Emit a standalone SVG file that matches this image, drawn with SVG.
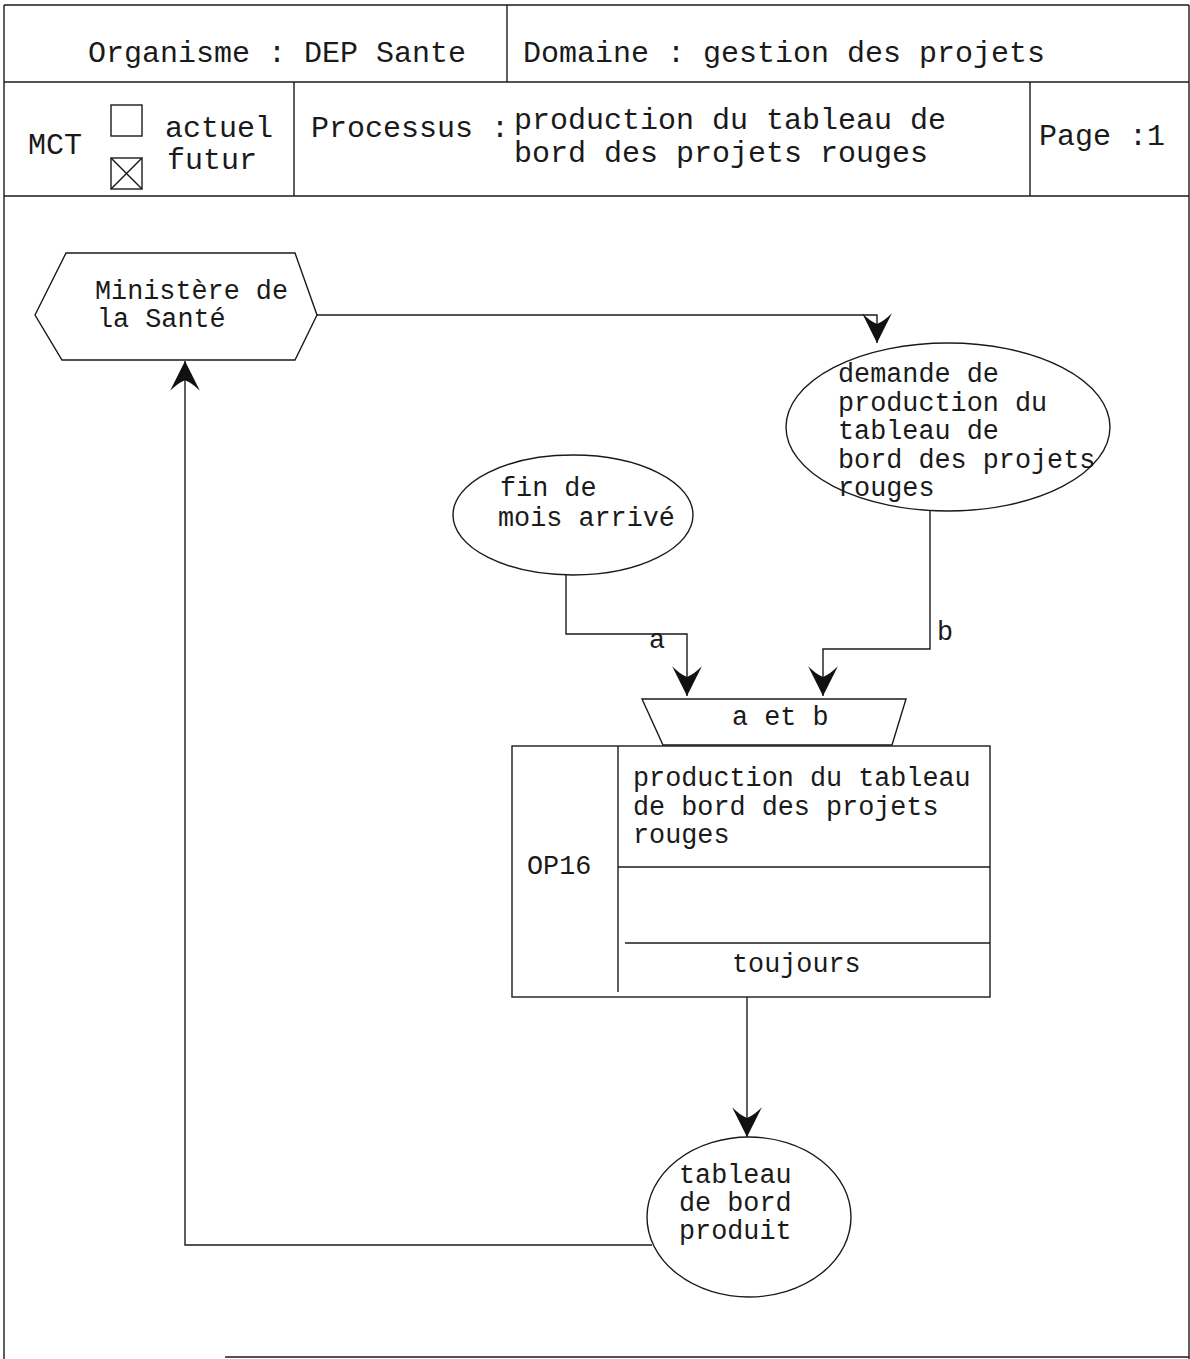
<svg xmlns="http://www.w3.org/2000/svg" width="1190" height="1359" viewBox="0 0 1190 1359">
  <style>
    .ln { fill: none; stroke: #1a1a1a; stroke-width: 1.4; }
    .shape { fill: #ffffff; stroke: #1a1a1a; stroke-width: 1.4; }
    .hd { font-family: "Liberation Mono", "Courier New", monospace; font-size: 30px; fill: #1a1a1a; }
    .tx { font-family: "Liberation Mono", "Courier New", monospace; font-size: 26.8px; fill: #1a1a1a; }
  </style>
  <defs>
    <marker id="arr" markerUnits="userSpaceOnUse" markerWidth="32" markerHeight="34" viewBox="0 0 30 32" refX="29" refY="16" orient="auto">
      <path d="M29,16 L1,2 Q9,10 11,16 Q9,22 1,30 Z" fill="#111"/>
    </marker>
  </defs>
  <rect width="1190" height="1359" fill="#ffffff"/>

  <g id="frame">
    <line class="ln" x1="4" y1="5" x2="1189" y2="5"/>
    <line class="ln" x1="4" y1="5" x2="4" y2="1359"/>
    <line class="ln" x1="1189" y1="5" x2="1189" y2="1359"/>
    <line class="ln" x1="225" y1="1357" x2="1189" y2="1357"/>
    <line class="ln" x1="4" y1="82" x2="1189" y2="82"/>
    <line class="ln" x1="4" y1="196" x2="1189" y2="196"/>
    <line class="ln" x1="507" y1="5" x2="507" y2="82"/>
    <line class="ln" x1="294" y1="82" x2="294" y2="196"/>
    <line class="ln" x1="1030" y1="82" x2="1030" y2="196"/>
  </g>

  <g id="header">
    <text class="hd" x="88" y="62">Organisme : DEP Sante</text>
    <text class="hd" x="523" y="62">Domaine : gestion des projets</text>
    <text class="hd" x="28" y="154">MCT</text>
    <rect class="shape" x="111" y="105" width="31" height="31"/>
    <text class="hd" x="165" y="137">actuel</text>
    <rect class="shape" x="111" y="158" width="31" height="31"/>
    <line class="ln" x1="111" y1="158" x2="142" y2="189"/>
    <line class="ln" x1="142" y1="158" x2="111" y2="189"/>
    <text class="hd" x="167" y="169">futur</text>
    <text class="hd" x="311" y="137">Processus :</text>
    <text class="hd" x="514" y="129">production du tableau de</text>
    <text class="hd" x="514" y="162">bord des projets rouges</text>
    <text class="hd" x="1039" y="145">Page :1</text>
  </g>

  <g id="connectors">
    <polyline class="ln" points="317,315 877,315 877,343" marker-end="url(#arr)"/>
    <polyline class="ln" points="566,574 566,634 687,634 687,696" marker-end="url(#arr)"/>
    <text class="tx" x="649" y="648">a</text>
    <polyline class="ln" points="930,511 930,649 823,649 823,696" marker-end="url(#arr)"/>
    <text class="tx" x="937" y="640">b</text>
    <line class="ln" x1="747" y1="997" x2="747" y2="1137" marker-end="url(#arr)"/>
    <polyline class="ln" points="652,1245 185,1245 185,361" marker-end="url(#arr)"/>
  </g>

  <g id="ministere">
    <polygon class="shape" points="35,315 66,253 295,253 317,315 295,360 62,360"/>
    <text class="tx" x="95" y="299">Ministère de</text>
    <text class="tx" x="97" y="327">la Santé</text>
  </g>

  <g id="demande">
    <ellipse class="shape" cx="948" cy="427" rx="162" ry="84"/>
    <text class="tx" x="838" y="382">demande de</text>
    <text class="tx" x="838" y="411">production du</text>
    <text class="tx" x="838" y="439">tableau de</text>
    <text class="tx" x="838" y="468">bord des projets</text>
    <text class="tx" x="838" y="496">rouges</text>
  </g>

  <g id="fin-de-mois">
    <ellipse class="shape" cx="573" cy="515" rx="120" ry="60"/>
    <text class="tx" x="500" y="496">fin de</text>
    <text class="tx" x="498" y="526">mois arrivé</text>
  </g>

  <g id="synchro">
    <polygon class="shape" points="642,699 906,699 892,745 663,745"/>
    <text class="tx" x="732" y="725">a et b</text>
  </g>

  <g id="op16">
    <rect class="shape" x="512" y="746" width="478" height="251"/>
    <line class="ln" x1="618" y1="746" x2="618" y2="992"/>
    <line class="ln" x1="618" y1="867" x2="990" y2="867"/>
    <line class="ln" x1="625" y1="943" x2="990" y2="943"/>
    <text class="tx" x="633" y="786">production du tableau</text>
    <text class="tx" x="633" y="815">de bord des projets</text>
    <text class="tx" x="633" y="843">rouges</text>
    <text class="tx" x="527" y="874">OP16</text>
    <text class="tx" x="732" y="972">toujours</text>
  </g>

  <g id="tableau-produit">
    <ellipse class="shape" cx="749" cy="1217" rx="102" ry="80"/>
    <text class="tx" x="679" y="1183">tableau</text>
    <text class="tx" x="679" y="1211">de bord</text>
    <text class="tx" x="679" y="1239">produit</text>
  </g>
</svg>
